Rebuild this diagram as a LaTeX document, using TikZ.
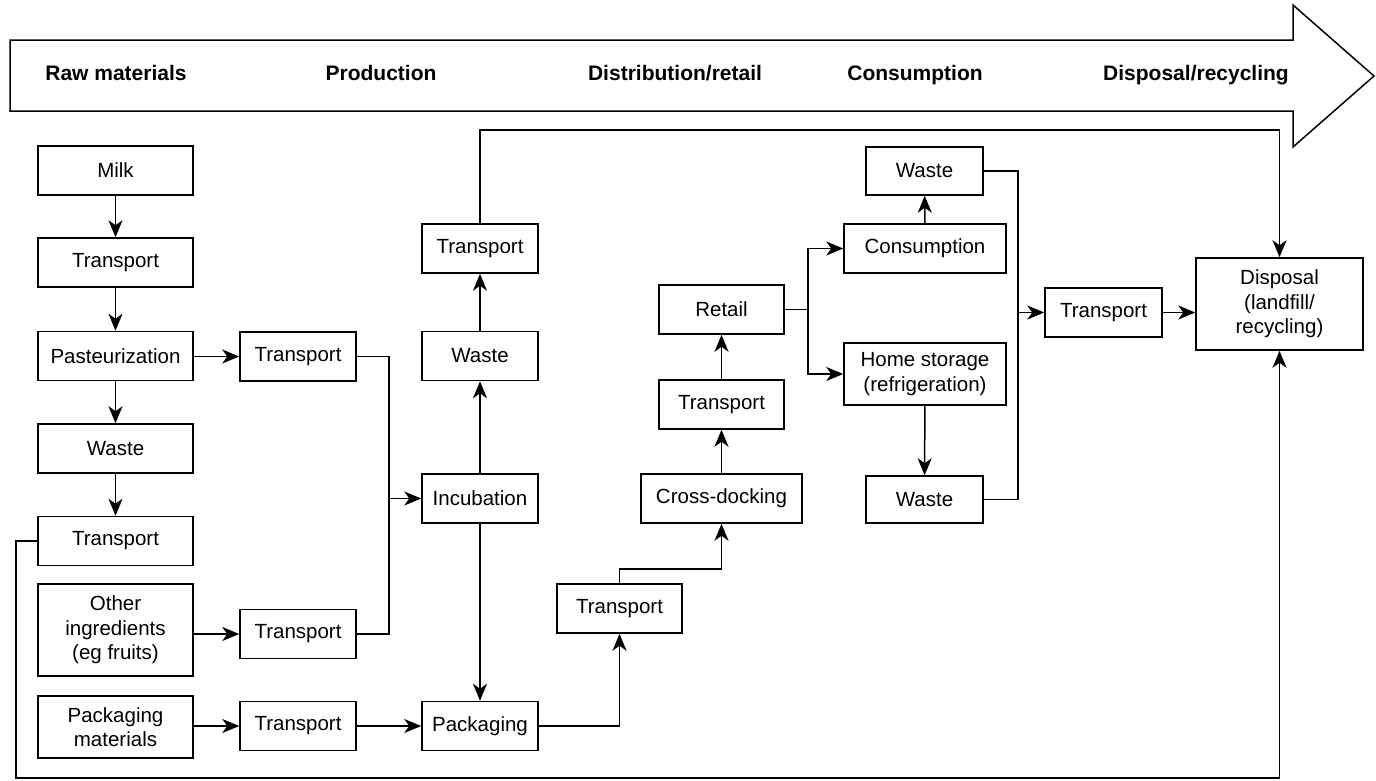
\documentclass[tikz,border=0pt]{standalone}
\usepackage{fontspec}
\setmainfont{Liberation Sans}
\usetikzlibrary{arrows.meta}
\begin{document}
\begin{tikzpicture}[x=1pt,y=-1pt,
  line width=1.5pt,
  box/.style={draw, line width=1.5pt, align=center, inner sep=0pt,
    font=\fontsize{20.5}{24.5}\selectfont},
  stage/.style={font=\fontsize{21}{25}\selectfont\bfseries,
    text height=15pt, text depth=4.5pt, inner sep=0pt},
  link/.style={-{Stealth[length=17pt,width=14pt,inset=5pt]}},
]
\useasboundingbox (0,0) rectangle (1376,780);

% life-cycle stage banner
\draw (10,40) -- (1293,40) -- (1293,5) -- (1374,76) -- (1293,147)
  -- (1293,111) -- (10,111) -- cycle;
\node[stage] (hraw)  at (116,75)  {Raw materials};
\node[stage] (hprod) at (381,75)  {Production};
\node[stage] (hdist) at (675,75)  {Distribution/retail};
\node[stage] (hcons) at (915,75)  {Consumption};
\node[stage] (hdisp) at (1196,75) {Disposal/recycling};

% raw materials
\node[box, minimum width=155pt, minimum height=49pt] (milk)   at (115.5,170.5) {Milk};
\node[box, minimum width=155pt, minimum height=49pt] (t1)     at (115.5,262.5) {Transport};
\node[box, minimum width=155pt, minimum height=49pt] (past)   at (115.5,356)   {Pasteurization};
\node[box, minimum width=155pt, minimum height=49pt] (waste1) at (115.5,448.5) {Waste};
\node[box, minimum width=155pt, minimum height=49pt] (t2)     at (115.5,541)   {Transport};
\node[box, minimum width=155pt, minimum height=92pt] (other)  at (115.5,630)   {Other\\ingredients\\(eg fruits)};
\node[box, minimum width=155pt, minimum height=62pt] (pack)   at (115.5,727)   {Packaging\\materials};

\node[box, minimum width=116pt, minimum height=49pt] (ta) at (298,356.5) {Transport};
\node[box, minimum width=116pt, minimum height=49pt] (tb) at (298,634)   {Transport};
\node[box, minimum width=116pt, minimum height=49pt] (tc) at (298,726)   {Transport};

% production
\node[box, minimum width=116pt, minimum height=49pt] (t3)     at (480,248.5) {Transport};
\node[box, minimum width=116pt, minimum height=49pt] (waste2) at (480,356)   {Waste};
\node[box, minimum width=116pt, minimum height=49pt] (incub)  at (480,498.5) {Incubation};
\node[box, minimum width=116pt, minimum height=49pt] (packg)  at (480,726)   {Packaging};

% distribution / retail
\node[box, minimum width=125pt, minimum height=49pt] (t4)     at (619.5,608.5) {Transport};
\node[box, minimum width=161pt, minimum height=49pt] (cross)  at (721.5,498.5) {Cross-docking};
\node[box, minimum width=125pt, minimum height=49pt] (t5)     at (721.5,404.5) {Transport};
\node[box, minimum width=125pt, minimum height=49pt] (retail) at (721.5,309.5) {Retail};

% consumption
\node[box, minimum width=117pt, minimum height=48pt] (wastet) at (924.5,171)   {Waste};
\node[box, minimum width=162pt, minimum height=49pt] (cons)   at (925,248.5)   {Consumption};
\node[box, minimum width=162pt, minimum height=62pt] (home)   at (925,374)     {Home storage\\(refrigeration)};
\node[box, minimum width=117pt, minimum height=47pt] (wasteb) at (924.5,499.5) {Waste};

% disposal
\node[box, minimum width=117pt, minimum height=49pt] (t6)   at (1103.5,312.5) {Transport};
\node[box, minimum width=167pt, minimum height=92pt] (disp) at (1279.5,304)   {Disposal\\(landfill/\\recycling)};

% junction points of the connectors
\coordinate (jin)   at (389,498.5);
\coordinate (jtop)  at (480,130);
\coordinate (jdock) at (721.5,569);
\coordinate (jret)  at (808,309.5);
\coordinate (jwst)  at (1018,312.5);
\coordinate (jbot)  at (16,778);

% milk chain
\draw[link] (milk) -- (t1);
\draw[link] (t1) -- (past);
\draw[link] (past) -- (waste1);
\draw[link] (waste1) -- (t2);
\draw[link] (past.east |- ta) -- (ta.west);
\draw[link] (other.east |- tb) -- (tb.west);
\draw[link] (pack.east |- tc) -- (tc.west);

% into incubation
\draw (ta.east) -| (jin);
\draw (tb.east) -| (jin);
\draw[link] (jin) -- (incub.west);
\draw[link] (tc.east) -- (packg.west |- tc);
\draw[link] (incub) -- (waste2);
\draw[link] (waste2) -- (t3);
\draw[link] (incub) -- (packg);
\draw[link] (t3.north) |- (disp.north |- jtop) -- (disp.north);

% distribution
\draw[link] (packg.east) -| (t4.south);
\draw[link] (t4.north) |- (jdock) -- (cross.south);
\draw[link] (cross) -- (t5);
\draw[link] (t5) -- (retail);
\draw (retail.east) -- (jret);
\draw[link] (jret) |- (cons.west);
\draw[link] (jret) |- (home.west);

% consumption waste
\draw[link] (cons) -- (wastet);
\draw[link] (home) -- (wasteb);
\draw (wastet.east) -| (jwst);
\draw (wasteb.east) -| (jwst);
\draw[link] (jwst) -- (t6.west);
\draw[link] (t6.east) -- (disp.west |- t6);

% milk waste straight to disposal
\draw[link] (t2.west) -| (jbot) -| (disp.south);
\end{tikzpicture}
\end{document}
